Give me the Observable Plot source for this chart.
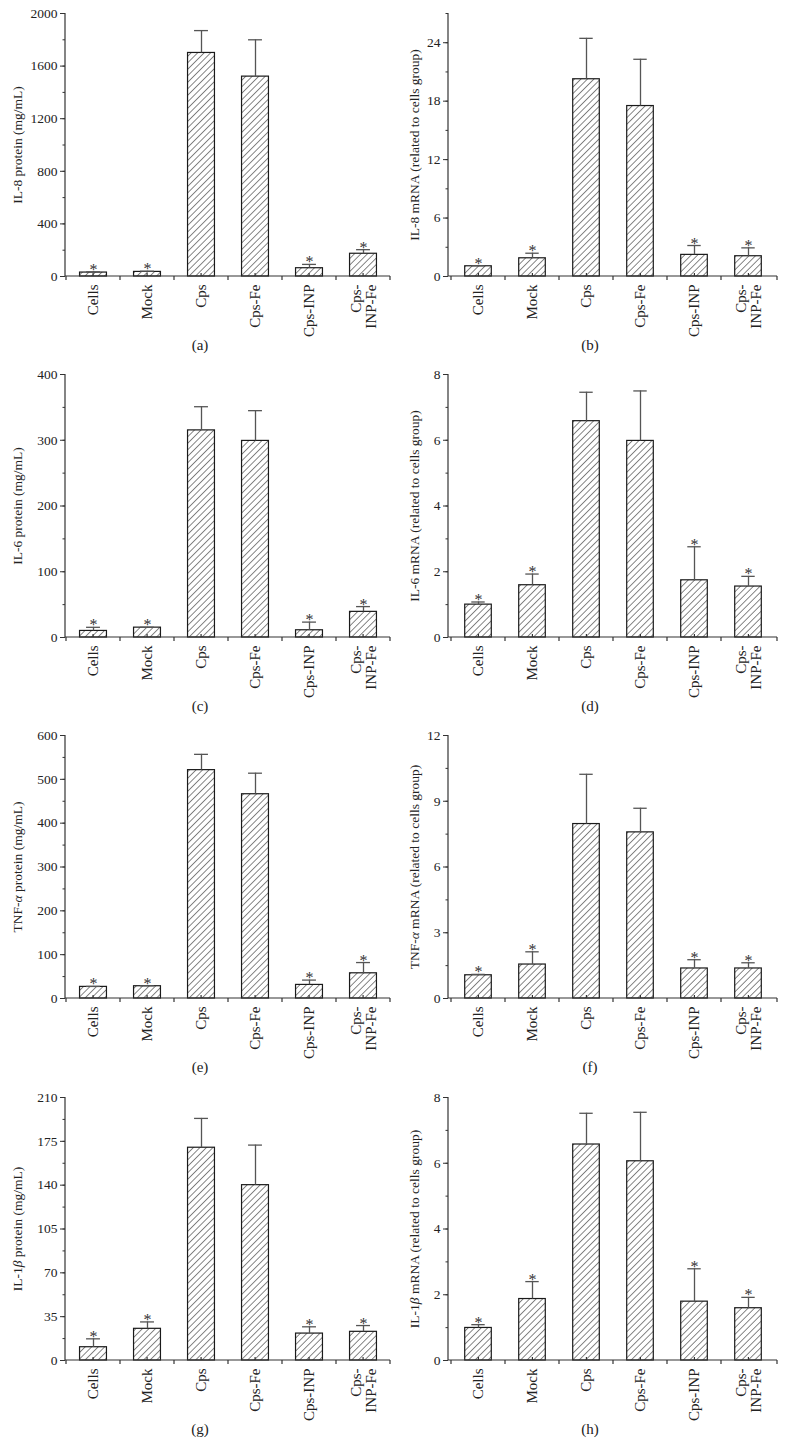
<!DOCTYPE html>
<html><head><meta charset="utf-8">
<script src="https://cdn.jsdelivr.net/npm/d3@7"></script>
<script src="https://cdn.jsdelivr.net/npm/@observablehq/plot@0.6"></script>
<style>
body{margin:0;background:#fff;}
#root{position:relative;width:785px;height:1449px;font-family:"Liberation Serif","Times New Roman",serif;overflow:hidden;}
.panel{position:absolute;}
.cap{position:absolute;width:120px;text-align:center;font-size:15px;line-height:16px;color:#222;font-family:"Liberation Serif",serif;}
</style></head><body><div id="root"></div>
<script>
// ---------- data ----------
const categories = ["Cells", "Mock", "Cps", "Cps-Fe", "Cps-INP", "Cps-INP-Fe"];
const tickLabels = ["Cells", "Mock", "Cps", "Cps-Fe", "Cps-INP", "Cps-\nINP-Fe"];
const significant = [true, true, false, false, true, true];

const il8Protein    = [30, 35, 1700, 1520, 63, 173];
const il8ProteinSD  = [5, 5, 170, 280, 29, 31];
const il8mRNA       = [1.05, 1.87, 20.25, 17.5, 2.22, 2.08];
const il8mRNASD     = [0.05, 0.52, 4.2, 4.8, 0.96, 0.86];
const il6Protein    = [10, 15, 315, 299, 11, 39];
const il6ProteinSD  = [5.5, 0.5, 36, 46, 12.4, 8];
const il6mRNA       = [1.0, 1.59, 6.58, 5.98, 1.74, 1.55];
const il6mRNASD     = [0.08, 0.34, 0.88, 1.52, 1.02, 0.31];
const tnfProtein    = [26.5, 28, 521, 466, 31, 57.5];
const tnfProteinSD  = [1, 1, 36, 48, 11, 24.5];
const tnfmRNA       = [1.06, 1.55, 7.96, 7.58, 1.37, 1.37];
const tnfmRNASD     = [0.04, 0.58, 2.27, 1.1, 0.4, 0.26];
const il1bProtein   = [10.6, 25.3, 169.9, 140, 21.5, 22.9];
const il1bProteinSD = [6.7, 5.5, 23.4, 32, 5.4, 5];
const il1bmRNA      = [0.99, 1.87, 6.57, 6.06, 1.79, 1.59];
const il1bmRNASD    = [0.1, 0.53, 0.95, 1.49, 1.0, 0.33];

const panelLetters = ["(a)", "(b)", "(c)", "(d)", "(e)", "(f)", "(g)", "(h)"];
const yLabels = [
  "IL-8 protein (mg/mL)", "IL-8 mRNA (related to cells group)",
  "IL-6 protein (mg/mL)", "IL-6 mRNA (related to cells group)",
  "TNF-α protein (mg/mL)", "TNF-α mRNA (related to cells group)",
  "IL-1β protein (mg/mL)", "IL-1β mRNA (related to cells group)"
];
const seriesValues = [il8Protein, il8mRNA, il6Protein, il6mRNA, tnfProtein, tnfmRNA, il1bProtein, il1bmRNA];
const seriesSD = [il8ProteinSD, il8mRNASD, il6ProteinSD, il6mRNASD, tnfProteinSD, tnfmRNASD, il1bProteinSD, il1bmRNASD];
const yMax = [2000, 27, 400, 8, 600, 12, 210, 8];
const yMajorStep = [400, 6, 100, 2, 100, 3, 35, 2];

// ---------- layout ----------
const rowTops = [0, 361, 722, 1084];
const colCfg = [
  {left: 0, width: 392, marginLeft: 65, marginRight: 2, labelDx: -48, capCenter: 200},
  {left: 390, width: 395, marginLeft: 58, marginRight: 8, labelDx: -34, capCenter: 200}
];
const H = 362, MT = 13, MB = 86;
const labelMap = new Map(categories.map((c, i) => [c, tickLabels[i]]));
const root = document.getElementById("root");

function hatchDefs(pid) {
  return () => {
    const g = d3.create("svg:g");
    const pat = g.append("defs").append("pattern")
      .attr("id", pid).attr("patternUnits", "userSpaceOnUse")
      .attr("width", 4.6).attr("height", 4.6)
      .attr("patternTransform", "rotate(45)");
    pat.append("rect").attr("width", 4.6).attr("height", 4.6).attr("fill", "#fff");
    pat.append("line").attr("x1", 2.3).attr("x2", 2.3).attr("y1", 0).attr("y2", 4.6)
      .attr("stroke", "#7a7a7a").attr("stroke-width", 0.9);
    return g.node();
  };
}

function axisFrame() {
  return (index, scales, values, dim) => {
    const g = d3.create("svg:g").attr("stroke", "#333").attr("stroke-width", 1.2).attr("fill", "none");
    const x0 = dim.marginLeft, x1 = dim.width - dim.marginRight;
    const yb = dim.height - dim.marginBottom, yt = dim.marginTop;
    const step = (x1 - x0) / categories.length;
    g.append("line").attr("x1", x0).attr("x2", x0).attr("y1", yb).attr("y2", yt);
    g.append("line").attr("x1", x0).attr("x2", x1).attr("y1", yb).attr("y2", yb);
    const bounds = categories.map(c => scales.x(c)).concat([x1]);
    for (const b of bounds) g.append("line").attr("x1", b).attr("x2", b).attr("y1", yb).attr("y2", yb + 4);
    for (const c of categories) {
      const cx = scales.x(c) + step / 2;
      g.append("line").attr("x1", cx).attr("x2", cx).attr("y1", yb).attr("y2", yb - 3);
    }
    return g.node();
  };
}

function italicGreek(svg) {
  svg.querySelectorAll("text").forEach(t => {
    if (t.children.length) return;
    const s = t.textContent;
    if (!/[αβ]/.test(s)) return;
    t.textContent = "";
    for (const part of s.split(/([αβ])/)) {
      if (!part) continue;
      const ts = document.createElementNS("http://www.w3.org/2000/svg", "tspan");
      ts.textContent = part;
      if (/[αβ]/.test(part)) ts.setAttribute("font-style", "italic");
      t.appendChild(ts);
    }
  });
}

for (let p = 0; p < 8; p++) {
  const col = colCfg[p % 2];
  const top = rowTops[Math.floor(p / 2)];
  const vals = seriesValues[p], sds = seriesSD[p];
  const data = categories.map((c, i) => ({cat: c, v: vals[i], top: vals[i] + sds[i], sig: significant[i]}));
  const major = d3.range(0, yMax[p] + 1e-9, yMajorStep[p]);
  const minor = d3.range(0, yMax[p] + 1e-9, yMajorStep[p] / 2);
  const plotW = col.width - col.marginLeft - col.marginRight;
  const bw = plotW / categories.length;
  const pid = "hatch" + p;

  const chart = Plot.plot({
    width: col.width, height: H,
    marginTop: MT, marginBottom: MB, marginLeft: col.marginLeft, marginRight: col.marginRight,
    style: {fontFamily: "'Liberation Serif', 'Times New Roman', serif", color: "#222", background: "transparent", overflow: "visible"},
    x: {domain: categories, padding: 0, label: null},
    y: {domain: [0, yMax[p]], label: null},
    marks: [
      hatchDefs(pid),
      Plot.barY(data, {x: "cat", y: "v", fill: `url(#${pid})`, stroke: "#1a1a1a", strokeWidth: 1.2,
        insetLeft: bw / 4, insetRight: bw / 4}),
      Plot.ruleX(data, {x: "cat", y1: "v", y2: "top", stroke: "#555", strokeWidth: 1.3}),
      Plot.tickY(data, {x: "cat", y: "top", stroke: "#555", strokeWidth: 1.3, inset: bw * 0.37}),
      Plot.text(data.filter(d => d.sig), {x: "cat", y: "top", text: () => "*", fontSize: 16,
        lineAnchor: "bottom", dy: 3, fill: "#333"}),
      Plot.axisY({ticks: minor, tickSize: 2.5, tickFormat: () => "", label: null, stroke: "#333"}),
      Plot.axisY({ticks: major, tickSize: 5, tickPadding: 3, fontSize: 13.5, label: null,
        tickFormat: d => String(d), stroke: "#333"}),
      Plot.axisX({tickSize: 0, tickPadding: 8, tickRotate: -90, fontSize: 15, label: null,
        tickFormat: d => labelMap.get(d)}),
      Plot.text([yLabels[p]], {frameAnchor: "left", dx: col.labelDx, rotate: -90, text: d => d,
        fontSize: 13.5, textAnchor: "middle", fill: "#222"}),
      axisFrame()
    ]
  });
  italicGreek(chart);
  chart.classList.add("panel");
  chart.style.left = col.left + "px";
  chart.style.top = top + "px";
  root.appendChild(chart);

  const cap = document.createElement("div");
  cap.className = "cap";
  cap.textContent = panelLetters[p];
  cap.style.left = (col.left + col.capCenter - 60) + "px";
  cap.style.top = (top + 337) + "px";
  root.appendChild(cap);
}
</script></body></html>
